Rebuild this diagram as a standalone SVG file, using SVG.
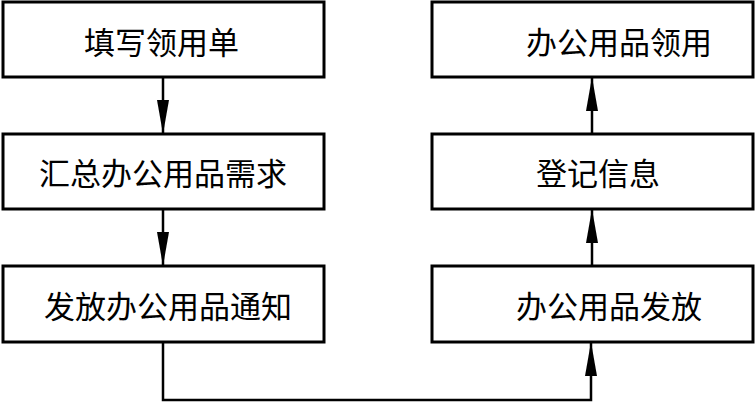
<svg xmlns="http://www.w3.org/2000/svg" width="756" height="402" viewBox="0 0 756 402">
<style>
.box{fill:#fff;stroke:#000;stroke-width:3}
.lbl{font-family:"Liberation Serif","Noto Sans CJK SC",serif;font-size:31px;fill:#000}
.con{fill:none;stroke:#000;stroke-width:2.5}
</style>
<defs>
<marker id="ah" markerUnits="userSpaceOnUse" markerWidth="34" markerHeight="12" refX="34" refY="6" orient="auto">
<path d="M0,0 L34,6 L0,12 z" fill="#000"/>
</marker>
</defs>
<rect width="756" height="402" fill="#fff"/>
<g id="n1"><rect class="box" x="3" y="2" width="321" height="75"/><text class="lbl" x="84" y="54">填写领用单</text></g>
<g id="n2"><rect class="box" x="3" y="134" width="321" height="75"/><text class="lbl" x="39" y="185">汇总办公用品需求</text></g>
<g id="n3"><rect class="box" x="3" y="266" width="321" height="76"/><text class="lbl" x="44" y="318">发放办公用品通知</text></g>
<g id="n4"><rect class="box" x="432" y="266" width="321" height="76"/><text class="lbl" x="516" y="318">办公用品发放</text></g>
<g id="n5"><rect class="box" x="432" y="134" width="321" height="75"/><text class="lbl" x="536" y="185">登记信息</text></g>
<g id="n6"><rect class="box" x="432" y="2" width="321" height="75"/><text class="lbl" x="526" y="54">办公用品领用</text></g>
<g id="connectors">
<path class="con" d="M163,77 V134" marker-end="url(#ah)"/>
<path class="con" d="M163,209 V266" marker-end="url(#ah)"/>
<path class="con" d="M163,342 V400 H591 V342" marker-end="url(#ah)"/>
<path class="con" d="M592,266 V209" marker-end="url(#ah)"/>
<path class="con" d="M592,134 V77" marker-end="url(#ah)"/>
</g>
</svg>
